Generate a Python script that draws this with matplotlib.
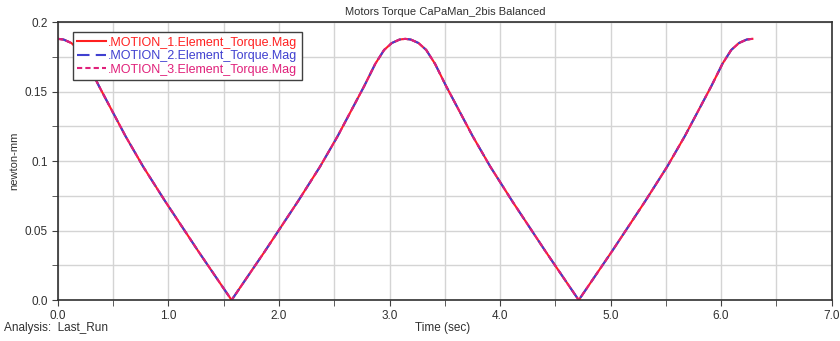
import matplotlib.pyplot as plt
from matplotlib.ticker import MultipleLocator, FormatStrFormatter

# time (sec) and torque magnitude (newton-mm)
time = [0.0, 0.051, 0.121, 0.191, 0.271, 0.371, 0.471, 0.611, 0.771, 0.971, 1.271, 1.571,
        1.871, 2.171, 2.371, 2.531, 2.671, 2.771, 2.871, 2.951, 3.021, 3.091, 3.142,
        3.192, 3.262, 3.332, 3.412, 3.512, 3.612, 3.752, 3.912, 4.112, 4.412, 4.712,
        5.012, 5.312, 5.512, 5.672, 5.812, 5.912, 6.012, 6.092, 6.162, 6.232, 6.283]
torque1 = [0.188, 0.1875, 0.185, 0.180, 0.170, 0.154, 0.139, 0.118, 0.096, 0.071, 0.035, 0.0,
           0.035, 0.071, 0.096, 0.118, 0.139, 0.154, 0.170, 0.180, 0.185, 0.1875, 0.188,
           0.1875, 0.185, 0.180, 0.170, 0.154, 0.139, 0.118, 0.096, 0.071, 0.035, 0.0,
           0.035, 0.071, 0.096, 0.118, 0.139, 0.154, 0.170, 0.180, 0.185, 0.1875, 0.188]
torque2 = torque1
torque3 = torque1

names = [".MOTION_1.Element_Torque.Mag",
         ".MOTION_2.Element_Torque.Mag",
         ".MOTION_3.Element_Torque.Mag"]
colors = ["#ff2020", "#4040d0", "#e0207a"]

plt.rcParams['font.family'] = ['Liberation Sans', 'DejaVu Sans']

fig = plt.figure(figsize=(8.4, 3.41), dpi=100)
ax = fig.add_axes([0.069, 0.12, 0.921, 0.815])

ax.plot(time, torque1, color=colors[0], lw=1.5, ls='-', label=names[0])
ax.plot(time, torque2, color=colors[1], lw=1.5, ls=(0, (6, 3)), label=names[1])
ax.plot(time, torque3, color=colors[2], lw=1.5, ls=(0, (2.5, 1.5)), label=names[2])

ax.set_xlim(0, 7)
ax.set_ylim(0, 0.2)
ax.xaxis.set_major_locator(MultipleLocator(1.0))
ax.xaxis.set_minor_locator(MultipleLocator(0.5))
ax.yaxis.set_major_locator(MultipleLocator(0.05))
ax.yaxis.set_minor_locator(MultipleLocator(0.025))
ax.xaxis.set_major_formatter(FormatStrFormatter('%.1f'))
ax.set_yticks([0.0, 0.05, 0.1, 0.15, 0.2])
ax.set_yticklabels(['0.0', '0.05', '0.1', '0.15', '0.2'])
ax.grid(True, which='both', color='#d4d4d4', lw=1.0)
ax.set_axisbelow(True)
ax.tick_params(which='both', direction='out', length=4, labelsize=8.5,
               color='#404040', labelcolor='#303030')
for s in ax.spines.values():
    s.set_color('#303030')
    s.set_linewidth(1.2)

ax.set_title('Motors Torque CaPaMan_2bis Balanced', fontsize=8, color='#303030', pad=5)
ax.set_ylabel('newton-mm', fontsize=8, color='#303030')
fig.text(0.494, 0.03, 'Time (sec)', fontsize=8.5, color='#303030', ha='left')
fig.text(0.005, 0.03, 'Analysis:  Last_Run', fontsize=8.5, color='#303030', ha='left')

leg = ax.legend(loc='upper left', bbox_to_anchor=(0.019, 0.964), fontsize=9,
                handlelength=2.3, handletextpad=0.2, borderpad=0.35,
                borderaxespad=0, labelspacing=0.12, fancybox=False,
                framealpha=1, edgecolor='#404040')
for txt, c in zip(leg.get_texts(), colors):
    txt.set_color(c)

fig.savefig('out.png', dpi=100)
